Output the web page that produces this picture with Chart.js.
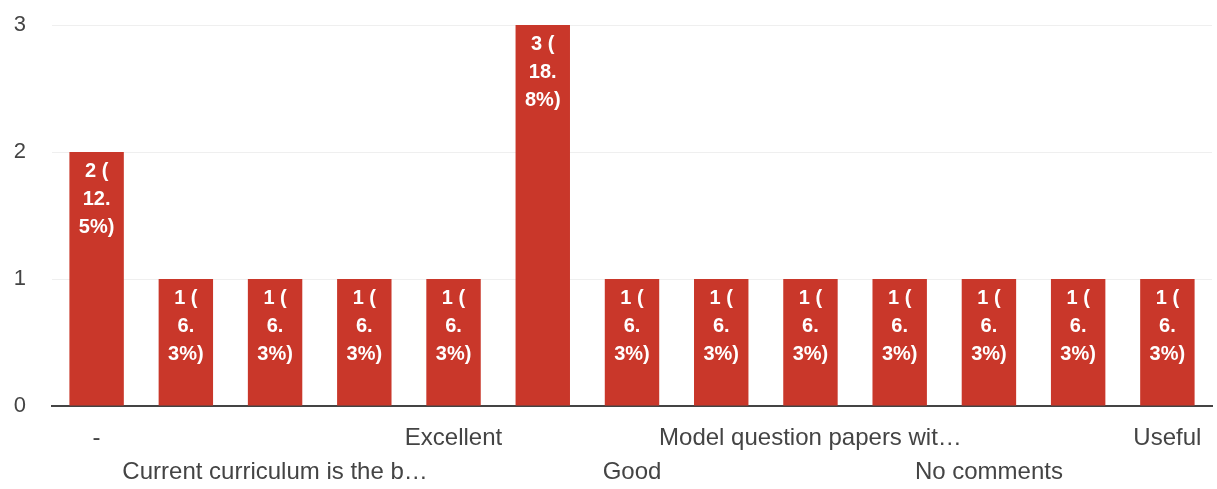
<!DOCTYPE html>
<html>
<head>
<meta charset="utf-8">
<script src="https://cdn.jsdelivr.net/npm/chart.js@4/dist/chart.umd.min.js"></script>
<style>
  html, body { margin: 0; padding: 0; background: #fff; }
  #wrap { width: 1217px; height: 489px; }
</style>
</head>
<body>
<div id="wrap"><canvas id="responseChart"></canvas></div>
<script>
// 回答分布：每类的人数
const categories = [
    '-', '', 'Current curriculum is the b…', '', 'Excellent', '',
    'Good', '', 'Model question papers wit…', '', 'No comments', '', 'Useful'
];
const counts = [2, 1, 1, 1, 1, 3, 1, 1, 1, 1, 1, 1, 1];
const yTicks = [0, 1, 2, 3];

const BAR_COLOR = '#c9372a';
const FONT = '"Liberation Sans", Arial, sans-serif';
const total = counts.reduce((a, b) => a + b, 0);

// 标签交错两行显示
const tickLabels = categories.map((c, i) => (i % 4 === 2 ? ['', c] : c));

// 柱内白字: "n (" / "12." / "5%)"
const barLabels = {
    id: 'barLabels',
    afterDatasetsDraw(chart) {
        const ctx = chart.ctx;
        const meta = chart.getDatasetMeta(0);
        ctx.save();
        ctx.fillStyle = '#ffffff';
        ctx.font = 'bold 20px ' + FONT;
        ctx.textAlign = 'center';
        ctx.textBaseline = 'middle';
        meta.data.forEach((bar, i) => {
            const v = counts[i];
            const pct = (v / total * 100).toFixed(1).split('.');
            const lines = [v + ' (', pct[0] + '.', pct[1] + '%)'];
            lines.forEach((line, k) => {
                ctx.fillText(line, bar.x, bar.y + 19 + k * 28);
            });
        });
        ctx.restore();
    }
};

new Chart(document.getElementById('responseChart'), {
    type: 'bar',
    data: {
        labels: tickLabels,
        datasets: [{
            data: counts,
            backgroundColor: BAR_COLOR,
            borderWidth: 0,
            barPercentage: 0.61,
            categoryPercentage: 1.0
        }]
    },
    options: {
        responsive: true,
        maintainAspectRatio: false,
        animation: false,
        layout: {
            padding: { top: 25, right: 5, left: 0, bottom: 0 }
        },
        plugins: {
            legend: { display: false },
            tooltip: { enabled: false }
        },
        scales: {
            x: {
                grid: { display: false },
                border: { color: '#444444', width: 2 },
                afterFit: function(axis) {
                    axis.height = 83;
                    axis.paddingLeft = 0;
                    axis.paddingRight = 0;
                },
                ticks: {
                    autoSkip: false,
                    maxRotation: 0,
                    minRotation: 0,
                    padding: 8,
                    color: '#444444',
                    font: { family: FONT, size: 24, lineHeight: 1.4 }
                }
            },
            y: {
                min: 0,
                max: 3,
                afterBuildTicks: function(axis) {
                    axis.ticks = yTicks.map(v => ({ value: v }));
                },
                afterFit: function(axis) {
                    axis.width = 52;
                    axis.paddingTop = 0;
                    axis.paddingBottom = 0;
                },
                grid: { color: '#efefef', drawTicks: false },
                border: { display: false },
                ticks: {
                    padding: 26,
                    color: '#444444',
                    font: { family: FONT, size: 22 }
                }
            }
        }
    },
    plugins: [barLabels]
});
</script>
</body>
</html>
